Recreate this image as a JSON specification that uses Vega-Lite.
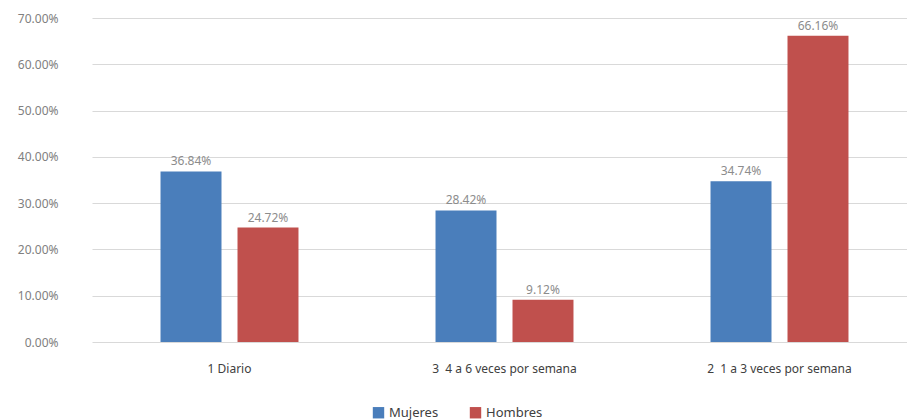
{
  "$schema": "https://vega.github.io/schema/vega-lite/v6.json",
  "autosize": {"type": "none"},
  "width": 825,
  "height": 324,
  "padding": {"left": 92, "top": 18, "right": 0, "bottom": 78},
  "background": "white",
  "config": {
    "font": "Noto Sans",
    "view": {"stroke": null}
  },
  "data": {
    "values": [
      {"cat": "1 Diario", "sexo": "Mujeres", "v": 0.3684},
      {"cat": "1 Diario", "sexo": "Hombres", "v": 0.2472},
      {"cat": "3\u00a0 4 a 6 veces por semana", "sexo": "Mujeres", "v": 0.2842},
      {"cat": "3\u00a0 4 a 6 veces por semana", "sexo": "Hombres", "v": 0.0912},
      {"cat": "2\u00a0 1 a 3 veces por semana", "sexo": "Mujeres", "v": 0.3474},
      {"cat": "2\u00a0 1 a 3 veces por semana", "sexo": "Hombres", "v": 0.6616}
    ]
  },
  "encoding": {
    "x": {
      "field": "cat", "type": "nominal", "sort": null,
      "scale": {"paddingInner": 0, "paddingOuter": 0},
      "axis": {"title": null, "labelAngle": 0, "domain": false, "ticks": false, "labelPadding": 21, "labelFontSize": 12, "labelColor": "#404040", "labelFont": "Noto Sans"}
    },
    "xOffset": {
      "field": "sexo", "type": "nominal", "sort": ["Mujeres", "Hombres"],
      "scale": {"paddingInner": 0.208, "paddingOuter": 0.89}
    },
    "y": {
      "field": "v", "type": "quantitative",
      "scale": {"domain": [0, 0.7], "nice": false},
      "axis": {"title": null, "format": ".2%", "values": [0, 0.1, 0.2, 0.3, 0.4, 0.5, 0.6, 0.7], "domain": false, "ticks": false, "labelPadding": 34, "labelFontSize": 12, "labelColor": "#808080", "gridColor": "#d9d9d9", "gridWidth": 1}
    }
  },
  "layer": [
    {
      "mark": {"type": "bar"},
      "encoding": {
        "color": {
          "field": "sexo", "type": "nominal", "sort": ["Mujeres", "Hombres"],
          "scale": {"domain": ["Mujeres", "Hombres"], "range": ["#4A7EBB", "#C0504D"]},
          "legend": {"title": null, "orient": "none", "direction": "horizontal", "legendX": 280, "legendY": 388, "symbolType": "square", "symbolSize": 130, "symbolStrokeWidth": 0, "symbolOpacity": 1, "labelFontSize": 13, "labelColor": "#404040", "columnPadding": 30}
        }
      }
    },
    {
      "mark": {"type": "text", "dy": -10, "fontSize": 12, "color": "#8c8c8c"},
      "encoding": {
        "text": {"field": "v", "type": "quantitative", "format": ".2%"}
      }
    }
  ]
}
